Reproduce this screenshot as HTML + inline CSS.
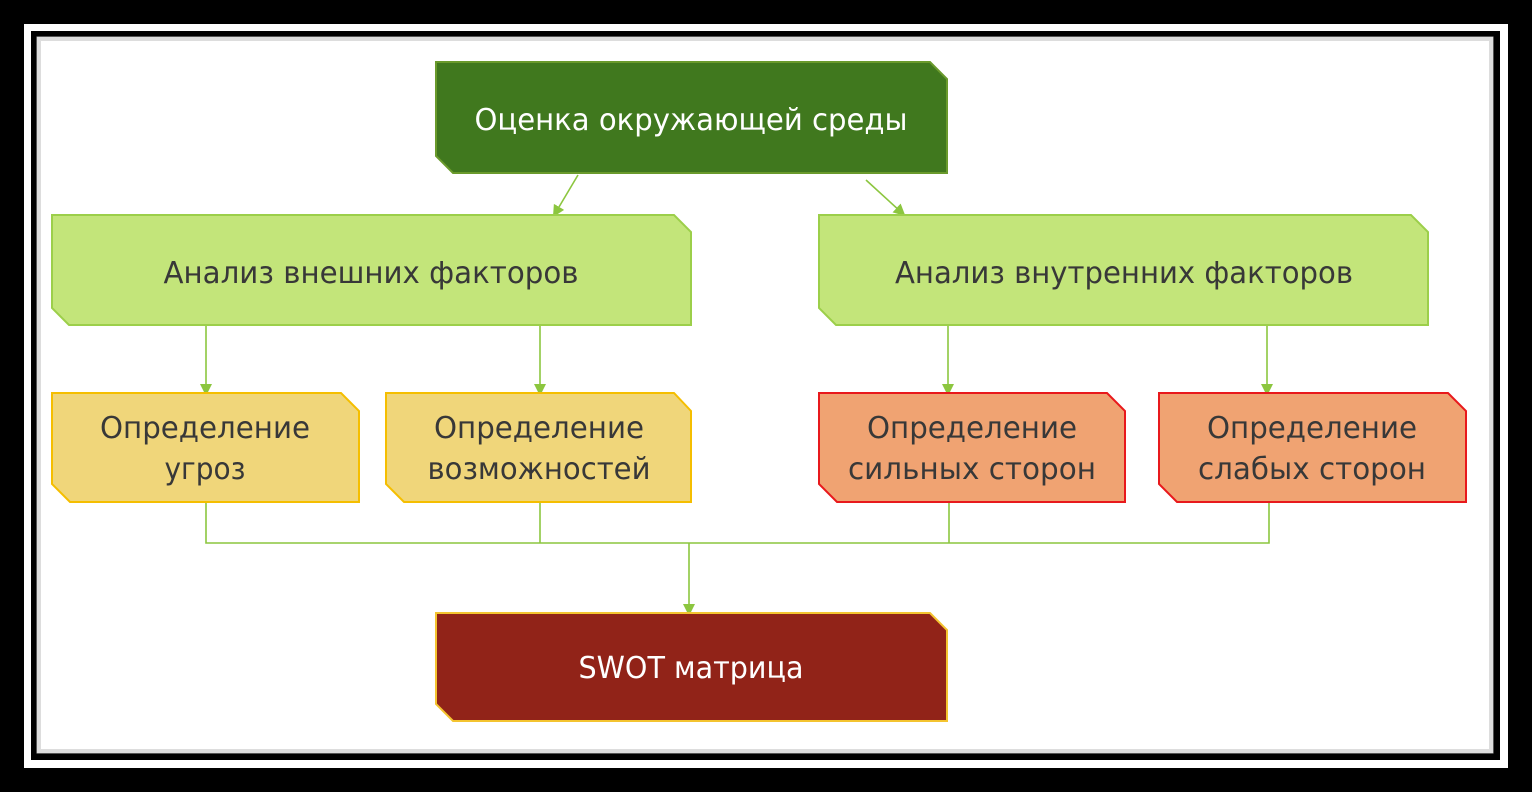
<!DOCTYPE html>
<html><head><meta charset="utf-8"><style>
html,body{margin:0;padding:0;background:#000;width:1532px;height:792px;overflow:hidden}
svg{display:block}
text{font-family:"DejaVu Sans","Liberation Sans",sans-serif;font-size:30px;fill:#383838;text-anchor:middle}
</style></head><body>
<svg width="1532" height="792" viewBox="0 0 1532 792" xmlns="http://www.w3.org/2000/svg">
<defs>
<marker id="ar" markerWidth="12" markerHeight="12" refX="6" refY="6" orient="auto" markerUnits="userSpaceOnUse"><path d="M0,0 L12,6 L0,12 z" fill="#8cc63f"/></marker>
</defs>
<rect x="0" y="0" width="1532" height="792" fill="#000"/>
<rect x="24" y="24" width="1484" height="744" fill="#fff"/>
<rect x="31" y="31" width="1469" height="729" fill="#000"/>
<rect x="38" y="38" width="1454" height="714" fill="#fff" stroke="#aaa" stroke-width="3"/>
<rect x="39" y="39" width="1452" height="712" fill="none" stroke="#ddd" stroke-width="4"/>

<g stroke="#8cc63f" stroke-width="1.6" fill="none">
<line x1="578" y1="175" x2="556" y2="212" marker-end="url(#ar)"/>
<line x1="866" y1="180" x2="901" y2="212" marker-end="url(#ar)"/>
<line x1="206" y1="325" x2="206" y2="390" marker-end="url(#ar)"/>
<line x1="540" y1="325" x2="540" y2="390" marker-end="url(#ar)"/>
<line x1="948" y1="325" x2="948" y2="390" marker-end="url(#ar)"/>
<line x1="1267" y1="325" x2="1267" y2="390" marker-end="url(#ar)"/>
<polyline points="206,502 206,543 1269,543 1269,502"/>
<line x1="540" y1="502" x2="540" y2="543"/>
<line x1="949" y1="502" x2="949" y2="543"/>
<line x1="689" y1="543" x2="689" y2="610" marker-end="url(#ar)"/>
</g>

<path d="M436,62 H930 L947,79 V173 H453 L436,156 Z" fill="#40781e" stroke="#6a9a2c" stroke-width="2"/>
<text x="691" y="130" style="fill:#fff" textLength="433" lengthAdjust="spacingAndGlyphs">Оценка окружающей среды</text>

<path d="M52,215 H674 L691,232 V325 H69 L52,308 Z" fill="#c3e57a" stroke="#9ccf4a" stroke-width="2"/>
<text x="371" y="283" textLength="415" lengthAdjust="spacingAndGlyphs">Анализ внешних факторов</text>
<path d="M819,215 H1411 L1428,232 V325 H836 L819,308 Z" fill="#c3e57a" stroke="#9ccf4a" stroke-width="2"/>
<text x="1124" y="283" textLength="458" lengthAdjust="spacingAndGlyphs">Анализ внутренних факторов</text>

<path d="M52,393 H341 L359,411 V502 H70 L52,484 Z" fill="#f0d67a" stroke="#f5be00" stroke-width="2"/>
<text x="205" y="438" textLength="210" lengthAdjust="spacingAndGlyphs">Определение</text>
<text x="205" y="479" textLength="81" lengthAdjust="spacingAndGlyphs">угроз</text>
<path d="M386,393 H674 L691,411 V502 H404 L386,484 Z" fill="#f0d67a" stroke="#f5be00" stroke-width="2"/>
<text x="539" y="438" textLength="210" lengthAdjust="spacingAndGlyphs">Определение</text>
<text x="539" y="479" textLength="223" lengthAdjust="spacingAndGlyphs">возможностей</text>

<path d="M819,393 H1107 L1125,411 V502 H837 L819,484 Z" fill="#f0a372" stroke="#e8191c" stroke-width="2"/>
<text x="972" y="438" textLength="210" lengthAdjust="spacingAndGlyphs">Определение</text>
<text x="972" y="479" textLength="248" lengthAdjust="spacingAndGlyphs">сильных сторон</text>
<path d="M1159,393 H1448 L1466,411 V502 H1177 L1159,484 Z" fill="#f0a372" stroke="#e8191c" stroke-width="2"/>
<text x="1312" y="438" textLength="210" lengthAdjust="spacingAndGlyphs">Определение</text>
<text x="1312" y="479" textLength="228" lengthAdjust="spacingAndGlyphs">слабых сторон</text>

<path d="M436,613 H930 L947,630 V721 H453 L436,704 Z" fill="#912318" stroke="#f4c430" stroke-width="2"/>
<text x="691" y="678" style="fill:#fff" textLength="225" lengthAdjust="spacingAndGlyphs">SWOT матрица</text>
</svg>
</body></html>
